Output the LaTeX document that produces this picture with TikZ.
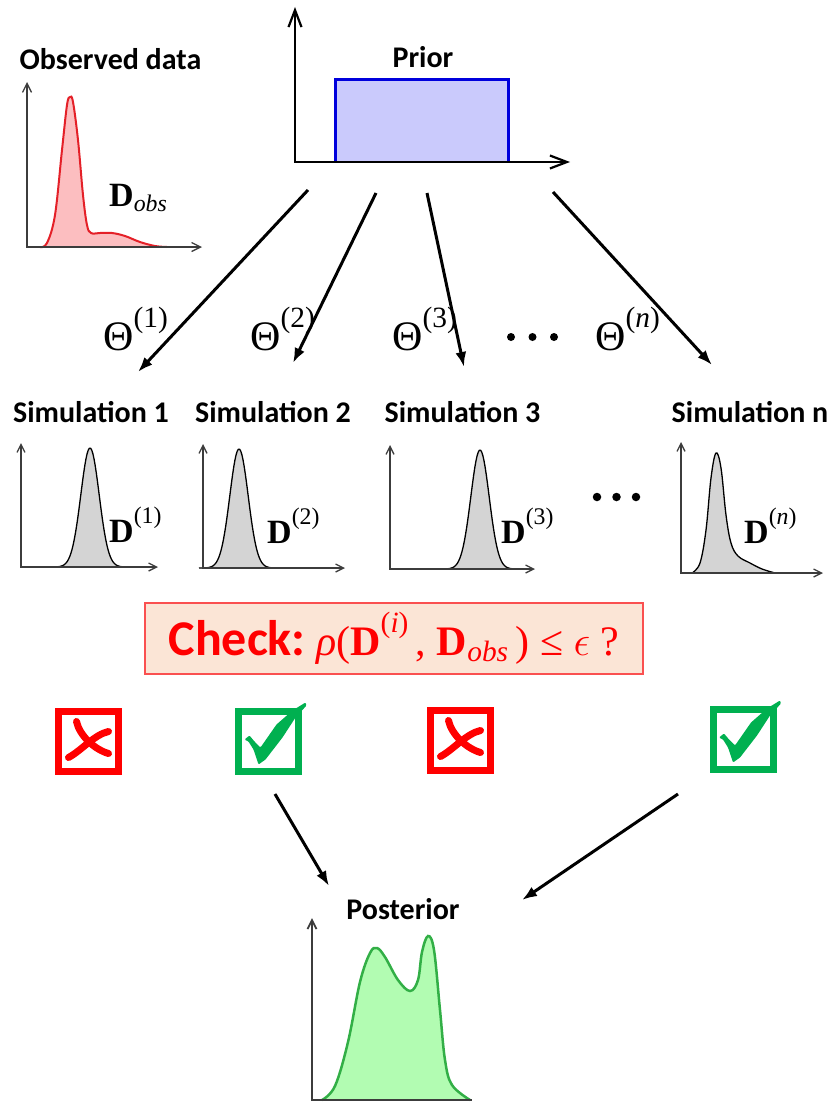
\RequirePackage{fix-cm}
\documentclass[tikz,border=0pt]{standalone}
\usepackage{fontspec}
\usepackage{tikz}
\usetikzlibrary{positioning,arrows.meta}
\usepackage{xcolor}
\newfontfamily\calfont{Carlito}
\newfontfamily\tms{Liberation Serif}
\definecolor{obsred}{RGB}{228,32,40}
\definecolor{obsfill}{RGB}{252,190,192}
\definecolor{priorblue}{RGB}{0,0,220}
\definecolor{priorfill}{RGB}{202,202,252}
\definecolor{simfill}{RGB}{212,212,212}
\definecolor{postline}{RGB}{50,175,70}
\definecolor{postfill}{RGB}{178,252,178}
\definecolor{chkfill}{RGB}{251,229,214}
\definecolor{chkline}{RGB}{250,80,80}
\definecolor{okgreen}{RGB}{0,176,80}
\definecolor{axgray}{RGB}{60,60,60}
\newcommand{\bD}{{\bfseries D}}
\newcommand{\sups}[1]{\textsuperscript{\raisebox{0.25em}{#1}}}

\begin{document}
\begin{tikzpicture}[x=1pt,y=-1pt,
  ttl/.style={font=\calfont\fontsize{30}{33}\selectfont\bfseries,anchor=base,inner sep=0pt},
  thl/.style={font=\tms\fontsize{42}{46}\selectfont,anchor=base west,inner sep=0pt},
  dl/.style={font=\tms\fontsize{34}{38}\selectfont,anchor=base west,inner sep=0pt},
  ax/.style={draw=axgray,line width=1.3pt,{Straight Barb[length=9pt,width=9pt]}-{Straight Barb[length=9pt,width=9pt]}},
  flow/.style={line width=3pt,-{Latex[length=15pt,width=11pt]}},
  dotc/.style={circle,fill,inner sep=0pt,minimum size=8pt},
  chkbox/.style={draw=chkline,line width=1.5pt,fill=chkfill,minimum width=498pt,minimum height=71pt,inner sep=0pt,text=red},
  nobox/.style={draw=red,line width=7pt,minimum size=60pt,inner sep=0pt},
  okbox/.style={draw=okgreen,line width=7pt,minimum size=60pt,inner sep=0pt},
  pics/crossmk/.style={code={
    \draw[red,line width=7pt,line cap=round] (-12,-20) .. controls (-9,-6) and (6,8) .. (20,12);
    \draw[red,line width=7pt,line cap=round] (20,-10) .. controls (6,-7) and (-7,9) .. (-20,16);}},
  pics/tickmk/.style={code={
    \fill[okgreen,rounded corners=1pt] (-24,-2) -- (-19,-6) -- (-14,0) -- (-8,6) -- (8,-17) -- (24,-31)
      -- (37,-39) -- (38,-36) -- (27,-24) -- (14,-4) -- (-3,18) -- (-10,23) -- (-15,8) -- (-20,0) -- cycle;}}]
\useasboundingbox (0,0) rectangle (835,1108);

% observed data
\node[ttl] (obs) at (110.5,70) {Observed data};
\filldraw[fill=obsfill,draw=obsred,line width=2pt] plot[smooth,tension=0.6] coordinates {(40,247) (47,243) (55,215) (62,150) (67,105) (70,97) (73,102) (78,140) (83,195) (87,225) (91,233) (100,233) (112,233) (125,236) (140,242) (155,246) (167,247)};
\draw[ax] (27,82) -- (27,247) -- (202,247);
\node[dl] (dobs) at (109,206) {\bD\textsubscript{\itshape obs}};

% prior
\node[ttl] (prior) at (423,67) {Prior};
\fill[priorfill] (335,162) rectangle (508,79);
\draw[priorblue,line width=3pt] (335,162) |- (508,79) -- (508,162);
\draw[line width=2.2pt,{Straight Barb[length=17pt,width=13pt]}-{Straight Barb[length=17pt,width=13pt]}] (295,7) -- (295,162) -- (570,162);

% parameters drawn from the prior
\coordinate (p1) at (308,190); \coordinate (e1) at (138,372);
\coordinate (p2) at (376,193); \coordinate (e2) at (293,363);
\coordinate (p3) at (427,193); \coordinate (e3) at (464,367);
\coordinate (p4) at (553,192); \coordinate (e4) at (712,365);
\draw[flow] (p1) -- (e1); \draw[flow] (p2) -- (e2); \draw[flow] (p3) -- (e3); \draw[flow] (p4) -- (e4);
\node[thl] (th1) at (103,350) {Θ\sups{(1)}};
\node[thl] (th2) at (250,350) {Θ\sups{(2)}};
\node[thl] (th3) at (392,350) {Θ\sups{(3)}};
\node[thl] (thn) at (595,350) {Θ\sups{(\textit{n})}};
\foreach \k in {0,1,2} \node[dotc] (da\k) at (511+21.5*\k,337) {};

% simulations
\node[ttl] (sim1) at (91,422) {Simulation 1};
\node[ttl] (sim2) at (273,422) {Simulation 2};
\node[ttl] (sim3) at (462.5,422) {Simulation 3};
\node[ttl] (simn) at (750,422) {Simulation n};
\foreach \ox/\oy/\xe/\pk in {21/567/158/90, 203/568/345/239, 390/569/535/480}{
  \filldraw[fill=simfill,draw=black,line width=1.3pt] plot[domain=\pk-40:\pk+40,samples=70] (\x,{\oy-119*exp(-(((\x-\pk)/13)^2))});
  \draw[ax,{Straight Barb[length=8pt,width=8pt]}-{Straight Barb[length=8pt,width=8pt]}] (\ox,\oy-124) -- (\ox,\oy) -- (\xe,\oy);
}
\filldraw[fill=simfill,draw=black,line width=1.3pt] plot[smooth,tension=0.6] coordinates {(692,573) (700,563) (706,530) (711,478) (716,453) (721,468) (726,515) (731,543) (738,556) (750,563) (762,569) (775,573)};
\draw[ax,{Straight Barb[length=8pt,width=8pt]}-{Straight Barb[length=8pt,width=8pt]}] (681,442) -- (681,573) -- (823,573);
\node[dl] (d1) at (109,542) {\bD\sups{(1)}};
\node[dl] (d2) at (267,543) {\bD\sups{(2)}};
\node[dl] (d3) at (501,543) {\bD\sups{(3)}};
\node[dl] (dn) at (744,543) {\bD\sups{(\textit{n})}};
\foreach \k in {0,1,2} \node[dotc,minimum size=8.5pt] (db\k) at (597+19.5*\k,497) {};

% distance check
\node[chkbox] (check) at (394,638.5) {{\calfont\bfseries\fontsize{50}{54}\selectfont Check:}{\tms\fontsize{42}{46}\selectfont\ \itshape ρ\upshape(\bD\sups{(\textit{i})}\,, \bD\textsubscript{\itshape obs}\,) ≤ $\epsilon$ ?}};

\node[nobox] (r1) at (88.5,741.5) {};
\node[okbox] (g2) at (268.5,741.5) {};
\node[nobox] (r3) at (460.5,740.5) {};
\node[okbox] (g4) at (743,739.5) {};
\pic at (r1) {crossmk}; \pic at (g2) {tickmk}; \pic at (r3) {crossmk}; \pic at (g4) {tickmk};

% accepted samples
\coordinate (q1) at (275,794); \coordinate (f1) at (329,886);
\coordinate (q2) at (678,794); \coordinate (f2) at (522,900);
\draw[flow] (q1) -- (f1); \draw[flow] (q2) -- (f2);

% posterior
\node[ttl] (post) at (403,919) {Posterior};
\filldraw[fill=postfill,draw=postline,line width=2.5pt] plot[smooth,tension=0.6] coordinates {(322,1100) (335,1086) (348,1042) (360,982) (370,953) (377,948) (385,957) (398,980) (410,991) (418,980) (422,952) (428,936) (434,950) (440,1010) (445,1060) (452,1085) (470,1100)};
\draw[axgray,line width=1.8pt,{Straight Barb[length=9pt,width=9pt]}-] (312,918) -- (312,1100) -- (472,1100);
\end{tikzpicture}
\end{document}
